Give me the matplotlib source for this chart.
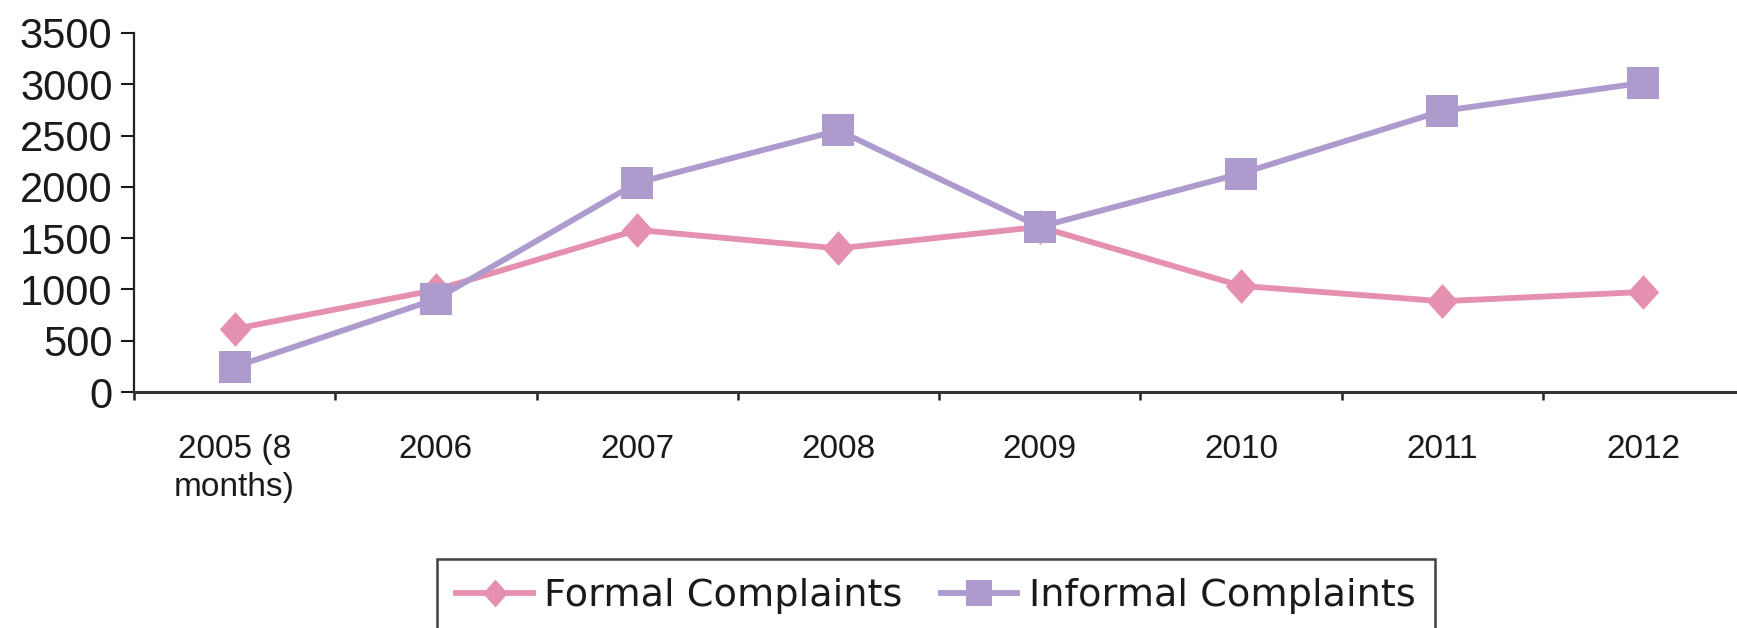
import matplotlib
matplotlib.use("Agg")
import matplotlib.pyplot as plt
from matplotlib.path import Path
import numpy as np

categories = ["2005 (8\nmonths)", "2006", "2007", "2008", "2009", "2010", "2011", "2012"]
formal = [615, 995, 1580, 1400, 1610, 1035, 885, 975]
informal = [245, 905, 2040, 2550, 1610, 2130, 2740, 3015]
yticks = [0, 500, 1000, 1500, 2000, 2500, 3000, 3500]

pink = "#E590B0"
purple = "#AD9BCE"
txt = "#1a1a1a"

diamond = Path([(0, 1), (0.9, 0), (0, -1), (-0.9, 0), (0, 1)],
               [Path.MOVETO, Path.LINETO, Path.LINETO, Path.LINETO, Path.CLOSEPOLY])

W, H = 1737, 628
fig = plt.figure(figsize=(W / 100, H / 100), dpi=100)
left = 134 / W
bottom = (H - 392) / H
top = (H - 33) / H
ax = fig.add_axes([left, bottom, 1.0 - left, top - bottom])

x = np.arange(len(categories))
ax.plot(x, formal, color=pink, lw=4.2, marker=diamond, markersize=25,
        markeredgewidth=0, label="Formal Complaints", zorder=3)
ax.plot(x, informal, color=purple, lw=4.2, marker="s", markersize=23.5,
        markeredgewidth=0, label="Informal Complaints", zorder=3)

ax.set_xlim(-0.5, 7.465)
ax.set_ylim(0, 3500)
ax.set_yticks(yticks)
ax.set_yticklabels([str(v) for v in yticks], fontfamily="Liberation Sans", fontsize=30, color=txt)
ax.tick_params(axis="y", direction="out", length=9.5, width=1.5, pad=6, colors=txt)

ax.set_xticks(x)
ax.set_xticklabels(categories, fontfamily="Liberation Sans", fontsize=24, color=txt, linespacing=1.3)
ax.tick_params(axis="x", which="major", length=0, pad=30)
ax.set_xticks(np.arange(-0.5, 7.5, 1.0), minor=True)
ax.tick_params(axis="x", which="minor", direction="out", length=5.5, width=1.8, color="#222222")

for s in ["top", "right"]:
    ax.spines[s].set_visible(False)
ax.spines["left"].set_linewidth(1.6)
ax.spines["left"].set_color("#222222")
ax.spines["bottom"].set_linewidth(2.2)
ax.spines["bottom"].set_color("#333333")

leg = fig.legend(loc="center", bbox_to_anchor=(936 / W, 1 - 596 / H), ncol=2,
                 prop={"family": "DejaVu Sans", "size": 27.5}, frameon=True, fancybox=False,
                 handlelength=2.0, handletextpad=0.3, columnspacing=1.0,
                 borderpad=0.5, markerscale=0.8)
leg.get_frame().set_edgecolor("#111111")
leg.get_frame().set_linewidth(1.8)
for t in leg.get_texts():
    t.set_color(txt)

fig.savefig("out.png", dpi=100)
